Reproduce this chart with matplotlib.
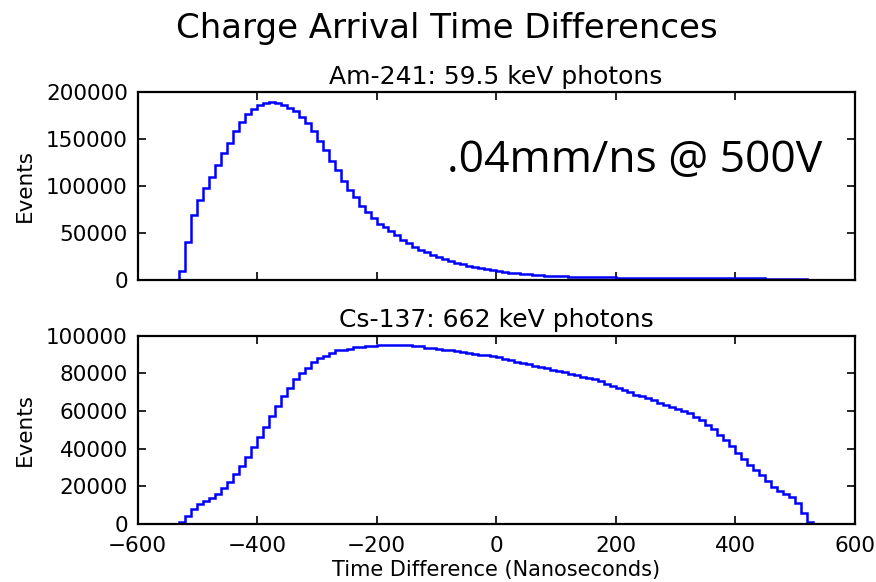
import numpy as np
import matplotlib
matplotlib.use('Agg')
import matplotlib.pyplot as plt

# Am-241 histogram: 10 ns bins from -530 to 520
am_edges = np.arange(-530, 521, 10)
am_counts = [
    9980, 39930, 69160, 84850, 97330, 109450, 121930, 135120, 146170, 157930,
    167910, 176470, 181820, 185740, 187880, 188950, 187880, 185740, 183240, 179320,
    173620, 166490, 157930, 148310, 137970, 126920, 116580, 105530, 95900, 88060,
    78790, 72010, 65600, 59540,
    56500, 52000, 47500, 43000, 39000, 35500, 32300, 29500, 26800, 24300,
    22100, 20100, 18300, 16700, 15200, 13800, 12500, 11300, 10200,
    9200, 8400, 7700, 7100, 6500, 6000, 5500, 5100, 4700, 4400,
    4100, 3800, 3600, 3400, 3200, 3000, 2900, 2800, 2700, 2600,
    2500, 2450, 2400, 2350, 2300, 2250, 2200, 2150, 2100, 2100,
    2050, 2000, 2000, 1950, 1900, 1900, 1850, 1800, 1800, 1750,
    1700, 1700, 1650, 1600, 1550, 1500, 1450, 1400, 1300, 1200,
    1050, 800,
]

# Cs-137 histogram: 10 ns bins from -600 to 600 (empty outside -530..530)
cs_edges = np.arange(-600, 601, 10)
cs_counts = [0] * 7 + [
    1000, 4000, 7700, 10300, 12000, 13800, 16100, 19100, 22300, 26700,
    30800, 35800, 40700, 46100, 51500, 57100, 62700, 67900, 72100, 76800,
    80300, 82900, 86300, 88100, 89500, 90900, 92200, 92700, 93200, 93800,
    94300, 94600, 94800, 94900,
    95000, 95000, 95000, 94900, 94900, 94800, 94700,
    93500, 93300, 93100, 92700, 92400, 92000, 91300, 91000, 90400, 90000,
    89600, 89200, 88500, 87800, 87000, 86300, 85500, 84800, 84200, 83500,
    82800, 82000, 81200, 80500, 79700, 79000, 78300, 77600, 76800, 75800,
    74600, 73400, 72300, 71100, 70000, 68600, 68200, 66800, 65600, 64300,
    63100, 62200, 61000, 59900, 58700, 56900, 55100, 52400, 50200, 47500,
    44800, 41300, 37700, 34700, 31200, 28500, 25700, 22800, 19600, 17500,
    15700, 14000, 10800, 5800, 1000,
] + [0] * 7

plt.rcParams['font.family'] = ['DejaVu Sans']
plt.rcParams['xtick.direction'] = 'in'
plt.rcParams['ytick.direction'] = 'in'
plt.rcParams['xtick.top'] = True
plt.rcParams['ytick.right'] = True
plt.rcParams['xtick.major.size'] = 6
plt.rcParams['ytick.major.size'] = 6
plt.rcParams['axes.linewidth'] = 1.6

fig = plt.figure(figsize=(8.76, 5.82), dpi=100)
ax1 = fig.add_axes([0.157, 0.519, 0.8185, 0.323])
ax2 = fig.add_axes([0.157, 0.100, 0.8185, 0.323], sharex=ax1)

am_centers = (am_edges[:-1] + am_edges[1:]) / 2
cs_centers = (cs_edges[:-1] + cs_edges[1:]) / 2
ax1.hist(am_centers, bins=am_edges, weights=am_counts, histtype='step', color='#0000ff', lw=1.8)
ax2.hist(cs_centers, bins=cs_edges, weights=cs_counts, histtype='step', color='#0000ff', lw=1.8)

ax1.set_xlim(-600, 600)
ax1.set_ylim(0, 200000)
ax1.set_yticks(np.arange(0, 200001, 50000))
ax2.set_ylim(0, 100000)
ax2.set_yticks(np.arange(0, 100001, 20000))
ax2.set_xticks(np.arange(-600, 601, 200))
plt.setp(ax1.get_xticklabels(), visible=False)

for ax in (ax1, ax2):
    ax.tick_params(labelsize=15.5, width=1.2, pad=7)
    ax.set_ylabel('Events', fontsize=15.5, labelpad=8)
ax2.tick_params(axis='x', pad=9)

ax1.set_title('Am-241: 59.5 keV photons', fontsize=18, pad=6)
ax2.set_title('Cs-137: 662 keV photons', fontsize=18, pad=6)
ax2.set_xlabel('Time Difference (Nanoseconds)', fontsize=15, labelpad=3)
fig.suptitle('Charge Arrival Time Differences', fontsize=24.5, x=0.51, y=0.98)

ax1.text(0.432, 0.572, '.04mm/ns @ 500V', transform=ax1.transAxes,
         fontsize=32, family='Open Sans', ha='left', va='baseline')

fig.savefig('out.png', dpi=100, facecolor='white')
